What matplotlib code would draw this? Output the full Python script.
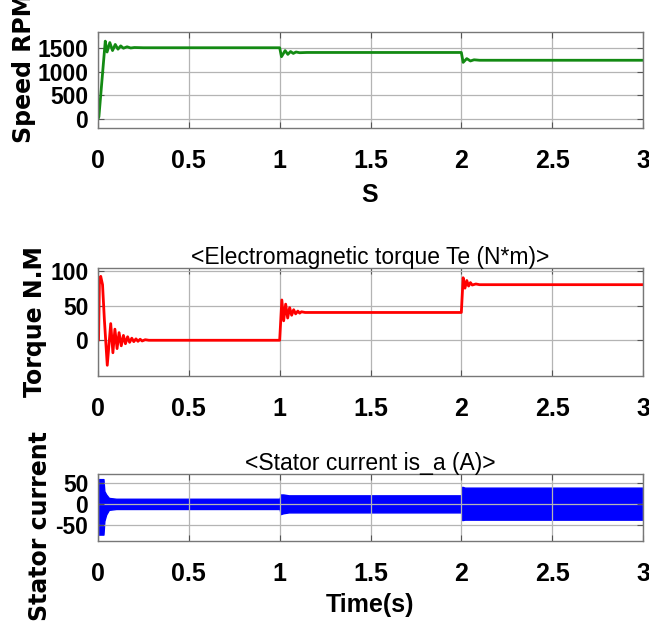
import matplotlib
matplotlib.use("Agg")
import matplotlib.pyplot as plt

# speed (RPM), peaks and troughs
speed_t = [0, 0.005, 0.04, 0.05, 0.065, 0.08, 0.095, 0.11, 0.125, 0.14, 0.16, 0.18, 0.2, 0.25,
           1.0, 1.01, 1.03, 1.045, 1.06, 1.075, 1.09, 1.11, 1.15,
           2.0, 2.01, 2.03, 2.05, 2.07, 2.1, 3.0]
speed_v = [0, 50, 1650, 1420, 1620, 1450, 1580, 1480, 1550, 1500, 1530, 1505, 1515, 1510,
           1510, 1320, 1450, 1370, 1430, 1390, 1420, 1405, 1410,
           1410, 1200, 1280, 1230, 1255, 1245, 1245]

# electromagnetic torque (N*m)
torque_t = [0, 0.003, 0.008, 0.015, 0.025, 0.035, 0.051, 0.07, 0.082, 0.093, 0.105, 0.116,
            0.128, 0.14, 0.151, 0.163, 0.174, 0.186, 0.197, 0.209, 0.22, 0.232, 0.243, 0.26, 0.28,
            1.0, 1.012, 1.022, 1.033, 1.044, 1.055, 1.066, 1.077, 1.088, 1.1, 1.11, 1.12, 1.14,
            2.0, 2.01, 2.02, 2.03, 2.04, 2.05, 2.06, 2.08, 2.1, 3.0]
torque_v = [0, 0, 85, 92, 80, 30, -36, 24, -18, 16, -12, 11,
            -8, 7, -5, 5, -3, 3, -2, 2, -1.5, 1.5, -1, 0.8, 0,
            0, 58, 28, 52, 32, 47, 36, 44, 38, 42, 39, 41, 40,
            40, 90, 75, 86, 78, 83, 79.5, 81, 80, 80]

# stator current is_a (A): envelope of the 50 Hz band
cur_t = [0, 0.002, 0.03, 0.035, 0.045, 0.06, 0.1, 1.0, 1.005, 1.02, 1.05, 2.0, 2.005, 2.02, 3.0]
cur_hi = [0, 58, 58, 30, 22, 14, 12, 12, 22, 22, 20, 20, 40, 38, 38]
cur_lo = [0, -72, -72, -40, -25, -14, -12, -12, -24, -22, -20, -20, -38, -37, -37]

xticks = [0, 0.5, 1, 1.5, 2, 2.5, 3]
xticklabels = ['0', '0.5', '1', '1.5', '2', '2.5', '3']

narrow = ['Liberation Sans Narrow', 'Liberation Sans', 'DejaVu Sans']

W, H = 649, 622
fig = plt.figure(figsize=(W / 100, H / 100), dpi=100)


def make_ax(top, bottom):
    ax = fig.add_axes([98 / W, 1 - bottom / H, 545 / W, (bottom - top) / H])
    ax.set_xlim(0, 3)
    ax.set_xticks(xticks)
    ax.set_xticklabels(xticklabels, family=narrow, fontsize=18, fontweight='bold')
    ax.grid(True, color='#b4b4b4', lw=0.9)
    ax.tick_params(direction='in', top=True, right=True, length=4, color='#555555')
    ax.tick_params(axis='x', pad=15)
    ax.tick_params(axis='y', pad=7)
    for s in ax.spines.values():
        s.set_color('#777777')
        s.set_linewidth(1)
    return ax


ax1 = make_ax(31.7, 128)
ax1.plot(speed_t, speed_v, color='#138a13', lw=2)
ax1.set_ylim(-190, 1850)
ax1.set_yticks([0, 500, 1000, 1500])
ax1.set_yticklabels(['0', '500', '1000', '1500'], family=narrow, fontsize=16.5, fontweight='bold')

ax2 = make_ax(268, 375.7)
ax2.plot(torque_t, torque_v, color='#ff0000', lw=2)
ax2.set_ylim(-51, 104)
ax2.set_yticks([0, 50, 100])
ax2.set_yticklabels(['0', '50', '100'], family=narrow, fontsize=16.5, fontweight='bold')
ax2.set_title('<Electromagnetic torque Te (N*m)>', family=narrow, fontsize=16.5, pad=3)

ax3 = make_ax(474, 541)
ax3.fill_between(cur_t, cur_lo, cur_hi, color='#0000ff', lw=1)
ax3.set_ylim(-87, 70)
ax3.set_yticks([-50, 0, 50])
ax3.set_yticklabels(['-50', '0', '50'], family=narrow, fontsize=16.5, fontweight='bold')
ax3.set_title('<Stator current is_a (A)>', family=narrow, fontsize=16.5, pad=3)

# axis labels placed where they sit in the picture
fig.text(370 / W, 1 - 195 / H, 'S', ha='center', va='center', family=narrow,
         fontsize=18, fontweight='bold')
fig.text(370 / W, 1 - 605 / H, 'Time(s)', ha='center', va='center', family=narrow,
         fontsize=18, fontweight='bold')
fig.text(24 / W, 1 - 68 / H, 'Speed RPM', rotation=90, ha='center', va='center',
         fontsize=17, fontweight='bold')
fig.text(35 / W, 1 - 322 / H, 'Torque N.M', rotation=90, ha='center', va='center',
         fontsize=17, fontweight='bold')
fig.text(40 / W, 1 - 526 / H, 'Stator current', rotation=90, ha='center', va='center',
         fontsize=17, fontweight='bold')

fig.savefig('out.png', dpi=100)
